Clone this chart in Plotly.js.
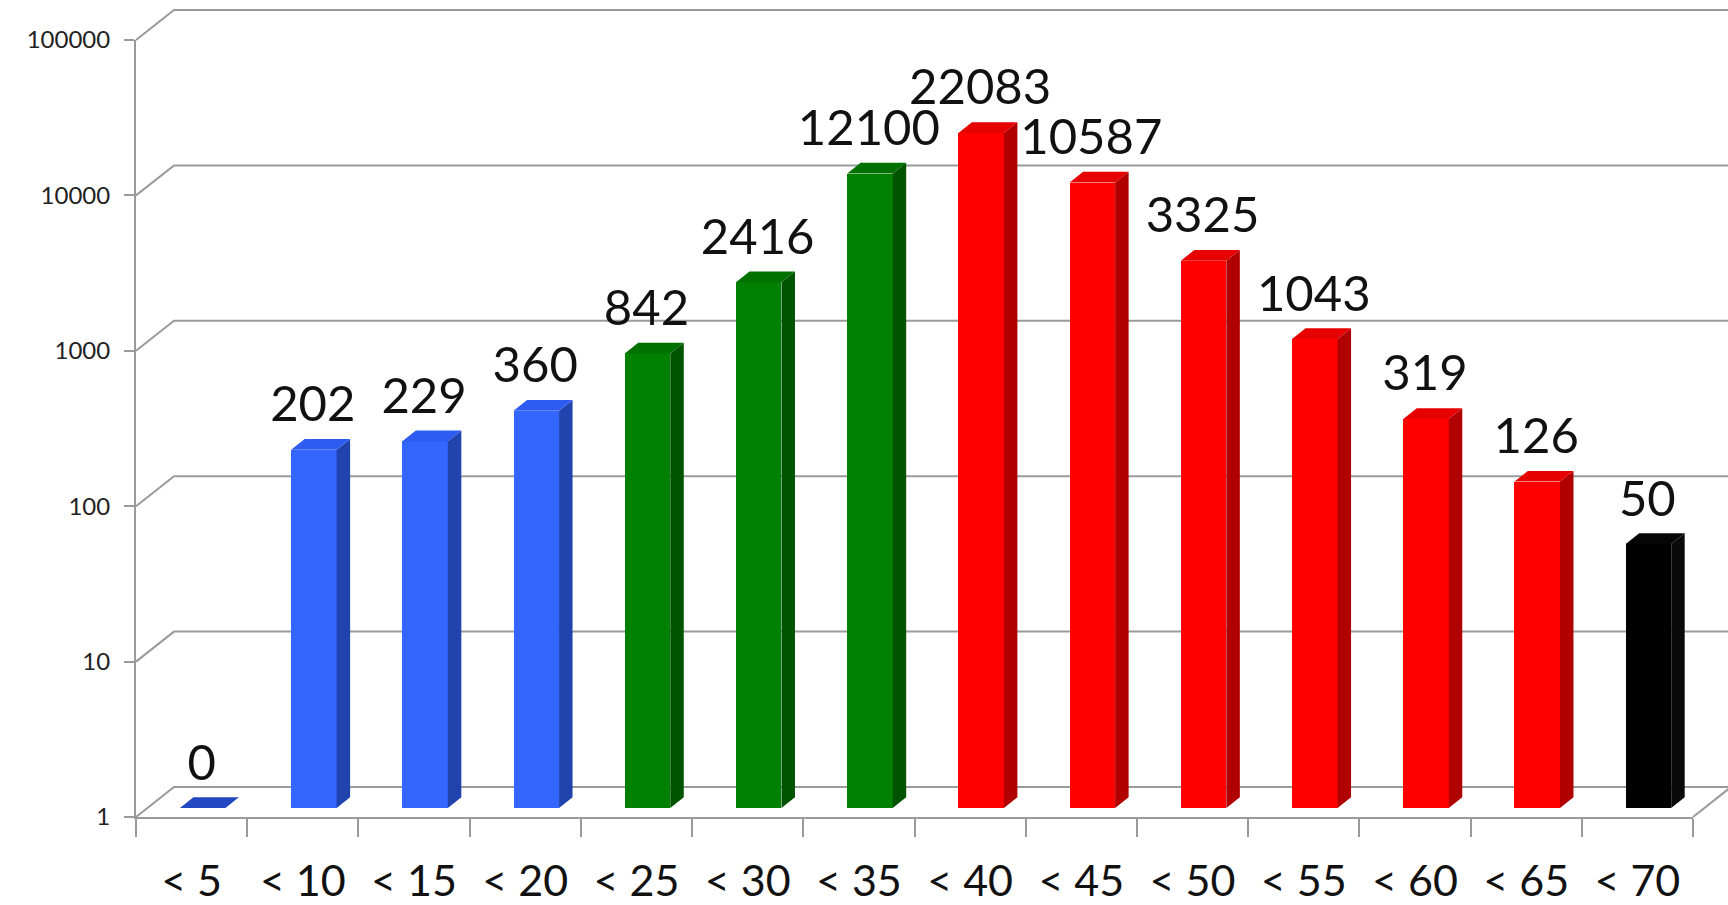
<!DOCTYPE html>
<html>
<head>
<meta charset="utf-8">
<script src="https://cdn.plot.ly/plotly-3.0.1.min.js"></script>
<style>
html,body{margin:0;padding:0;background:#fff;}
#chart{width:1728px;height:905px;}
</style>
</head>
<body>
<div id="chart"></div>
<script>
// ---------- data ----------
const categories = ['< 5', '< 10', '< 15', '< 20', '< 25', '< 30', '< 35', '< 40', '< 45', '< 50', '< 55', '< 60', '< 65', '< 70'];
const counts = [0, 202, 229, 360, 842, 2416, 12100, 22083, 10587, 3325, 1043, 319, 126, 50];
const colorGroup = ['blue', 'blue', 'blue', 'blue', 'green', 'green', 'green', 'red', 'red', 'red', 'red', 'red', 'red', 'black'];
const yTickValues = [1, 10, 100, 1000, 10000, 100000];
const yTickLabels = ['1', '10', '100', '1000', '10000', '100000'];

// ---------- styles ----------
const palette = {
  blue:  {front: '#3366FF', side: '#2143AE', top: '#2E5CF0', zeroTop: '#2347C0'},
  green: {front: '#008000', side: '#005400', top: '#007000', zeroTop: '#006000'},
  red:   {front: '#FF0000', side: '#B00000', top: '#E60000', zeroTop: '#C00000'},
  black: {front: '#000000', side: '#0A0A0A', top: '#050505', zeroTop: '#000000'}
};
const frameColor = '#9a9a9a';
const FONT = 'Lato, "Open Sans", sans-serif';

// ---------- geometry (pixels) ----------
const W = 1728, H = 905, ML = 136, MR = 35, MT = 40, MB = 88;
const plotW = W - ML - MR, plotH = H - MT - MB;
const nCat = categories.length;
const slotPx = plotW / nCat;
const decadePx = plotH / 5;
const wallDX = 38, wallDY = 30;        // back wall offset
const barLiftPx = 9;                   // bar front plane above the front floor line
const frontOffPx = -11.7, frontWPx = 45.5;
const sideDXPx = 13.5, sideDYPx = 10.7;
const labelDXPx = 10, labelGapPx = 30;

const px2x = p => p / slotPx;
const px2f = p => Math.pow(10, p / decadePx);   // multiplicative factor on the log axis
const F = px2f(barLiftPx);
const G = px2f(sideDYPx);
const oL = px2x(frontOffPx), oW = px2x(frontWPx), oR = oL + oW, sd = px2x(sideDXPx);

// ---------- traces ----------
const traces = [];

// side and top faces, one pair of traces per colour group
const groups = ['blue', 'green', 'red', 'black'];
groups.forEach(g => {
  const sx = [], sy = [], tx = [], ty = [];
  counts.forEach((v, i) => {
    if (colorGroup[i] !== g || v <= 0) return;
    const top = F * v;
    sx.push(i + oR, i + oR + sd, i + oR + sd, i + oR, i + oR, null);
    sy.push(F, F * G, top * G, top, F, null);
    tx.push(i + oL, i + oR, i + oR + sd, i + oL + sd, i + oL, null);
    ty.push(top, top, top * G, top * G, top, null);
  });
  if (!sx.length) return;
  traces.push({type: 'scatter', mode: 'lines', x: sx, y: sy, xaxis: 'x2', yaxis: 'y',
    fill: 'toself', fillcolor: palette[g].side, line: {width: 0, color: palette[g].side},
    hoverinfo: 'skip', showlegend: false});
  traces.push({type: 'scatter', mode: 'lines', x: tx, y: ty, xaxis: 'x2', yaxis: 'y',
    fill: 'toself', fillcolor: palette[g].top, line: {width: 0, color: palette[g].top},
    hoverinfo: 'skip', showlegend: false});
});

// flat top faces for empty bins (value 0 sits on the floor)
counts.forEach((v, i) => {
  if (v > 0) return;
  const c = palette[colorGroup[i]].zeroTop;
  traces.push({type: 'scatter', mode: 'lines', xaxis: 'x2', yaxis: 'y',
    x: [i + oL, i + oR, i + oR + sd, i + oL + sd, i + oL],
    y: [F, F, F * G, F * G, F],
    fill: 'toself', fillcolor: c, line: {width: 0, color: c}, hoverinfo: 'skip', showlegend: false});
});

// front faces
traces.push({
  type: 'bar', x: categories, y: counts.map(v => v > 0 ? F * v - F : 0), base: F,
  offset: oL, width: oW, xaxis: 'x', yaxis: 'y',
  marker: {color: counts.map((v, i) => palette[colorGroup[i]].front), line: {width: 0}},
  hoverinfo: 'skip', showlegend: false
});

// value labels
traces.push({
  type: 'scatter', mode: 'text', xaxis: 'x2', yaxis: 'y',
  x: counts.map((v, i) => i + px2x(labelDXPx)),
  y: counts.map(v => (v > 0 ? F * v : F) * G * px2f(labelGapPx)),
  text: counts.map(v => String(v)),
  textposition: 'middle center',
  textfont: {family: FONT, size: 49, color: '#111111'},
  cliponaxis: false, hoverinfo: 'skip', showlegend: false
});

// ---------- 3D frame (walls / floor) ----------
const dxp = wallDX / plotW, dyp = wallDY / plotH;
const shapes = [];
for (let k = 0; k <= 5; k++) {
  const yk = k / 5;
  shapes.push({type: 'path', xref: 'paper', yref: 'paper', layer: 'below',
    path: `M0,${yk} L${dxp},${yk + dyp} L1.05,${yk + dyp}`,
    line: {color: frameColor, width: 2}});
}
shapes.push({type: 'path', xref: 'paper', yref: 'paper', layer: 'below',
  path: `M1,0 L${1 + dxp * 1.05},${dyp * 1.05}`, line: {color: frameColor, width: 2}});

const layout = {
  width: W, height: H,
  margin: {l: ML, r: MR, t: MT, b: MB, pad: 0},
  paper_bgcolor: '#ffffff', plot_bgcolor: 'rgba(0,0,0,0)',
  showlegend: false, bargap: 0,
  font: {family: FONT, color: '#111111'},
  xaxis: {
    type: 'category', categoryorder: 'array', categoryarray: categories,
    range: [-0.5, nCat - 0.5], tickson: 'boundaries', ticks: 'outside', ticklen: 18,
    tickwidth: 2, tickcolor: frameColor, showline: true, linecolor: frameColor, linewidth: 2,
    showgrid: false, zeroline: false, ticklabelstandoff: 25,
    tickfont: {family: FONT, size: 43, color: '#111111'}, fixedrange: true
  },
  xaxis2: {overlaying: 'x', anchor: 'y', range: [-0.5, nCat - 0.5], visible: false, fixedrange: true},
  yaxis: {
    type: 'log', range: [0, 5], tickvals: yTickValues, ticktext: yTickLabels,
    ticks: 'outside', ticklen: 10, tickwidth: 2, tickcolor: frameColor,
    showline: true, linecolor: frameColor, linewidth: 2, showgrid: false, zeroline: false,
    ticklabelstandoff: 9, tickfont: {family: FONT, size: 24, color: '#222222'}, fixedrange: true
  },
  shapes: shapes
};

Plotly.newPlot('chart', traces, layout, {staticPlot: true, displayModeBar: false});
</script>
</body>
</html>
